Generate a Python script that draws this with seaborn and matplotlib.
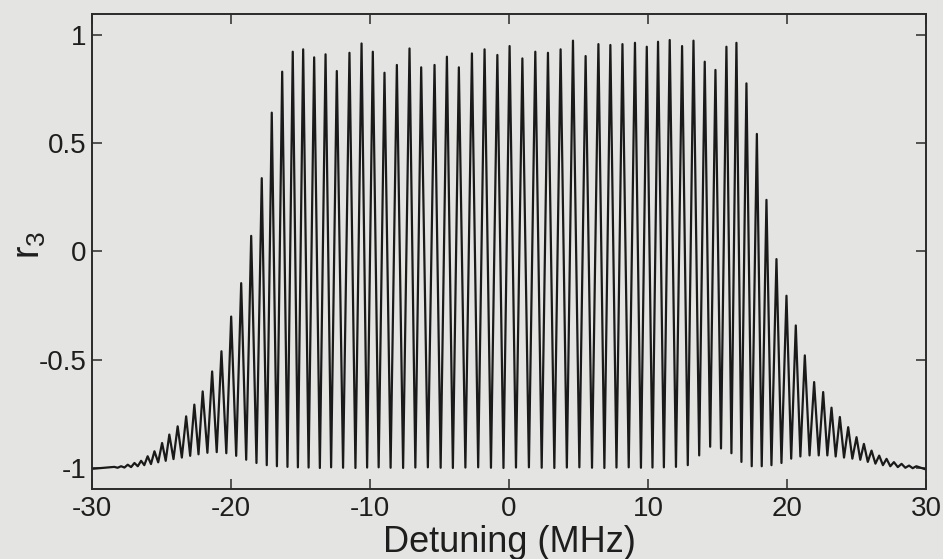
import numpy as np
import pandas as pd
import matplotlib
matplotlib.use("Agg")
import matplotlib.pyplot as plt
import seaborn as sns

# ---- data -----------------------------------------------------------------
# detuning (MHz) of each oscillation maximum
peak_x = [-28.40, -27.91, -27.43, -26.95, -26.47, -26.00, -25.51, -24.96,
          -24.44, -23.84, -23.23, -22.64, -22.04, -21.36, -20.69, -19.99,
          -19.27, -18.55, -17.79, -17.07, -16.32, -15.56, -14.81, -14.02,
          -13.20, -12.39, -11.48, -10.61, -9.80, -8.96, -8.07, -7.16,
          -6.32, -5.36, -4.47, -3.61, -2.67, -1.76, -0.84, 0.04,
          0.96, 1.89, 2.80, 3.71, 4.60, 5.51, 6.43, 7.29,
          8.16, 9.06, 9.91, 10.72, 11.56, 12.45, 13.27, 14.08,
          14.85, 15.64, 16.36, 17.08, 17.83, 18.52, 19.24, 19.96,
          20.63, 21.28, 21.95, 22.60, 23.20, 23.80, 24.40, 25.00,
          25.53, 26.08, 26.63, 27.16, 27.69, 28.24, 28.78, 29.30]
# r3 at each maximum
peak_r3 = [-0.993, -0.990, -0.983, -0.975, -0.965, -0.944, -0.921, -0.883,
           -0.844, -0.806, -0.760, -0.706, -0.645, -0.553, -0.460, -0.300,
           -0.146, 0.072, 0.338, 0.640, 0.829, 0.921, 0.932, 0.895,
           0.909, 0.832, 0.916, 0.959, 0.921, 0.824, 0.860, 0.936,
           0.849, 0.860, 0.898, 0.849, 0.913, 0.932, 0.906, 0.947,
           0.890, 0.921, 0.916, 0.932, 0.972, 0.901, 0.956, 0.952,
           0.956, 0.962, 0.944, 0.967, 0.975, 0.947, 0.972, 0.875,
           0.837, 0.944, 0.962, 0.775, 0.542, 0.238, -0.035, -0.204,
           -0.341, -0.479, -0.602, -0.648, -0.720, -0.763, -0.810, -0.856,
           -0.887, -0.918, -0.941, -0.956, -0.971, -0.979, -0.987, -0.990]
# detuning (MHz) of each minimum between two maxima
trough_x = [-28.16, -27.67, -27.19, -26.71, -26.24, -25.76, -25.24, -24.70,
            -24.14, -23.54, -22.94, -22.34, -21.70, -21.03, -20.34, -19.63,
            -18.91, -18.17, -17.43, -16.70, -15.94, -15.19, -14.42, -13.61,
            -12.80, -11.94, -11.05, -10.21, -9.38, -8.52, -7.62, -6.74,
            -5.84, -4.92, -4.04, -3.14, -2.22, -1.30, -0.40, 0.50,
            1.43, 2.35, 3.26, 4.16, 5.06, 5.97, 6.86, 7.73,
            8.61, 9.49, 10.32, 11.14, 12.01, 12.86, 13.68, 14.47,
            15.25, 16.00, 16.72, 17.46, 18.18, 18.88, 19.60, 20.30,
            20.96, 21.62, 22.28, 22.90, 23.50, 24.10, 24.70, 25.27,
            25.81, 26.36, 26.90, 27.43, 27.97, 28.51, 29.04]
# r3 at each minimum
trough_r3 = [-0.997, -0.996, -0.994, -0.990, -0.985, -0.980, -0.972, -0.965,
             -0.957, -0.950, -0.942, -0.935, -0.928, -0.925, -0.930, -0.942,
             -0.960, -0.975, -0.985, -0.990, -0.993, -0.995, -0.996, -0.998,
             -0.995, -0.997, -0.998, -0.996, -0.995, -0.997, -0.998, -0.996,
             -0.995, -0.997, -0.998, -0.996, -0.995, -0.997, -0.998, -0.996,
             -0.995, -0.997, -0.998, -0.996, -0.995, -0.997, -0.998, -0.996,
             -0.995, -0.997, -0.996, -0.995, -0.993, -0.985, -0.940, -0.900,
             -0.908, -0.930, -0.970, -0.990, -0.990, -0.985, -0.975, -0.955,
             -0.945, -0.940, -0.940, -0.940, -0.945, -0.950, -0.955, -0.960,
             -0.970, -0.978, -0.985, -0.990, -0.994, -0.997, -0.999]
# curve end points
edge_x = [-30.0, 30.0]
edge_r3 = [-1.002, -1.005]

x_ticks = [-30, -20, -10, 0, 10, 20, 30]
y_ticks = [-1, -0.5, 0, 0.5, 1]
y_tick_labels = ["-1", "-0.5", "0", "0.5", "1"]

# ---- build the curve table ------------------------------------------------
df = pd.DataFrame({
    "Detuning (MHz)": edge_x + peak_x + trough_x,
    "r3": edge_r3 + peak_r3 + trough_r3,
}).sort_values("Detuning (MHz)").reset_index(drop=True)

# ---- plot -----------------------------------------------------------------
sns.set_theme(style="ticks")
plt.rcParams["font.family"] = ["Liberation Sans", "DejaVu Sans"]
plt.rcParams["mathtext.fontset"] = "custom"
plt.rcParams["mathtext.rm"] = "Liberation Sans"
plt.rcParams["mathtext.it"] = "Liberation Sans"

bg = "#e4e4e2"
fig = plt.figure(figsize=(9.43, 5.59), dpi=100, facecolor=bg)
ax = fig.add_axes([0.0976, 0.1252, 0.8844, 0.8498])
ax.set_facecolor(bg)

sns.lineplot(data=df, x="Detuning (MHz)", y="r3", ax=ax, sort=False,
             color="#1a1a1a", linewidth=1.6, estimator=None)

ax.set_xlim(-30, 30)
ax.set_ylim(-1.095, 1.095)
ax.set_xticks(x_ticks)
ax.set_xticklabels([str(t) for t in x_ticks])
ax.set_yticks(y_ticks)
ax.set_yticklabels(y_tick_labels)

ax.tick_params(direction="in", length=7, width=1.1, color="#2a2a2a",
               top=True, right=True, labelsize=20, labelcolor="#1e1e1e")
ax.tick_params(axis="x", pad=5)
ax.tick_params(axis="y", pad=4)
for s in ax.spines.values():
    s.set_linewidth(1.4)
    s.set_color("#2a2a2a")

ax.set_xlabel("Detuning (MHz)", fontsize=26, color="#1e1e1e", labelpad=2)
ax.set_ylabel(r"$\mathregular{r_3}$", fontsize=27, color="#1e1e1e")
lab = ax.yaxis.label
lab.set_rotation_mode("default")
lab.set_horizontalalignment("left")
lab.set_verticalalignment("center")
ax.yaxis.set_label_coords(-0.096, 0.514)

fig.savefig("out.png", dpi=100, facecolor=bg)
